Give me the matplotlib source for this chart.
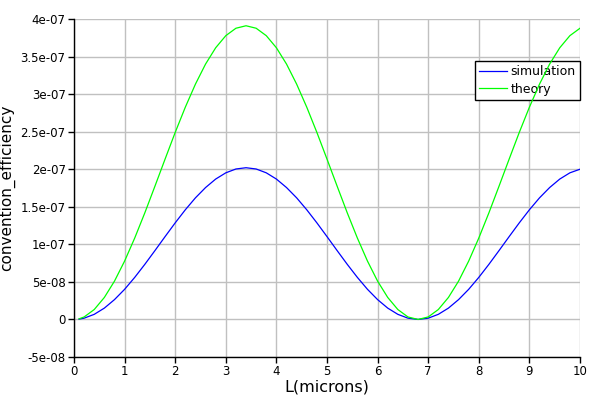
import matplotlib
matplotlib.use("Agg")
import matplotlib.pyplot as plt
from matplotlib.ticker import FuncFormatter, MultipleLocator

L = [0.1, 0.2, 0.4, 0.6, 0.8, 1.0, 1.2, 1.4, 1.6, 1.8, 2.0, 2.2, 2.4, 2.6, 2.8, 3.0,
     3.2, 3.4, 3.6, 3.8, 4.0, 4.2, 4.4, 4.6, 4.8, 5.0, 5.2, 5.4, 5.6, 5.8, 6.0, 6.2,
     6.4, 6.6, 6.8, 7.0, 7.2, 7.4, 7.6, 7.8, 8.0, 8.2, 8.4, 8.6, 8.8, 9.0, 9.2, 9.4,
     9.6, 9.8, 10.0]

# values in units of 1e-7
simulation = [0.004, 0.017, 0.068, 0.151, 0.264, 0.401, 0.560, 0.734, 0.917, 1.103,
              1.286, 1.460, 1.619, 1.756, 1.869, 1.952, 2.003, 2.020, 2.003, 1.952,
              1.869, 1.756, 1.619, 1.460, 1.286, 1.103, 0.917, 0.734, 0.560, 0.401,
              0.264, 0.151, 0.068, 0.017, 0.000, 0.017, 0.068, 0.151, 0.264, 0.401,
              0.560, 0.734, 0.917, 1.103, 1.286, 1.460, 1.619, 1.756, 1.869, 1.952,
              2.000]

theory = [0.008, 0.033, 0.132, 0.293, 0.510, 0.777, 1.084, 1.420, 1.775, 2.135,
          2.490, 2.826, 3.133, 3.400, 3.617, 3.778, 3.877, 3.910, 3.877, 3.778,
          3.617, 3.400, 3.133, 2.826, 2.490, 2.135, 1.775, 1.420, 1.084, 0.777,
          0.510, 0.293, 0.132, 0.033, 0.000, 0.033, 0.132, 0.293, 0.510, 0.777,
          1.084, 1.420, 1.775, 2.135, 2.490, 2.826, 3.133, 3.400, 3.617, 3.778,
          3.877]

scale = 1e-7
sim_vals = [v * scale for v in simulation]
th_vals = [v * scale for v in theory]

fig = plt.figure(figsize=(6, 4), dpi=100)
ax = fig.add_axes([74 / 600, 1 - 357 / 400, 506 / 600, 338 / 400])

ax.plot(L, sim_vals, color="#0000ff", lw=0.9, label="simulation", zorder=4)
ax.plot(L, th_vals, color="#00ff00", lw=0.9, label="theory", zorder=4)

ax.set_xlim(0, 10)
ax.set_ylim(-5e-8, 4e-7)
ax.xaxis.set_major_locator(MultipleLocator(1))
ax.yaxis.set_major_locator(MultipleLocator(5e-8))
ax.yaxis.set_major_formatter(FuncFormatter(lambda v, p: "0" if abs(v) < 1e-12 else "%g" % v))

ax.grid(True, color="#c0c0c0", lw=1, zorder=0)
ax.set_axisbelow(True)
for s in ["top", "right"]:
    ax.spines[s].set_visible(False)
for s in ["left", "bottom"]:
    ax.spines[s].set_linewidth(1)
ax.tick_params(direction="out", length=4, width=1, labelsize=8.5, colors="black", pad=2)

ax.set_xlabel("L(microns)", fontsize=11.5, labelpad=1)
ax.set_ylabel("convention_efficiency", fontsize=11)
ax.yaxis.set_label_coords(-0.117, 0.5)

leg = ax.legend(loc="upper right", bbox_to_anchor=(1.0, 0.876), fontsize=9,
                fancybox=False, framealpha=1, edgecolor="black",
                borderpad=0.35, handlelength=2.2, handletextpad=0.3, labelspacing=0.35,
                borderaxespad=0)
leg.get_frame().set_linewidth(1)
leg.set_zorder(3)

fig.savefig("out.png", dpi=100)
